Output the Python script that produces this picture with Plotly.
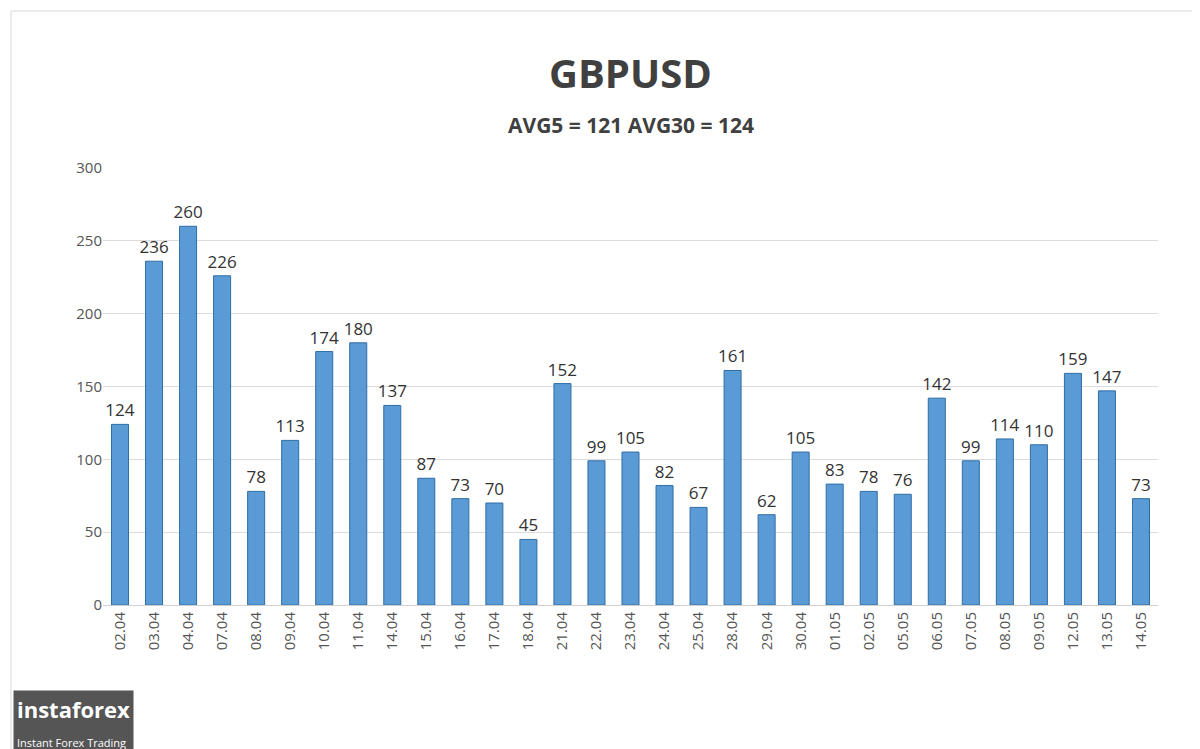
import plotly.graph_objects as go

dates = ["02.04","03.04","04.04","07.04","08.04","09.04","10.04","11.04","14.04","15.04",
         "16.04","17.04","18.04","21.04","22.04","23.04","24.04","25.04","28.04","29.04",
         "30.04","01.05","02.05","05.05","06.05","07.05","08.05","09.05","12.05","13.05","14.05"]
values = [124,236,260,226,78,113,174,180,137,87,73,70,45,152,99,105,82,67,161,62,
          105,83,78,76,142,99,114,110,159,147,73]
yticks = [0,50,100,150,200,250,300]

L, R, T, B = 95, 50, 160, 152
PW, PH = 1200 - L - R, 749 - T - B

fig = go.Figure(go.Bar(
    x=dates, y=values, text=values, textposition="outside", cliponaxis=False,
    constraintext="none",
    textfont=dict(size=17, color="#333", family="Open Sans"),
    marker=dict(color="#5b9bd5", line=dict(color="#2e6da4", width=1)),
    width=0.5,
))
fig.update_layout(
    width=1200, height=749, paper_bgcolor="white", plot_bgcolor="white",
    margin=dict(l=L, r=R, t=T, b=B),
    xaxis=dict(tickangle=-90, tickfont=dict(size=15, color="#555", family="Open Sans"),
               showline=True, linecolor="#d0d0d0", ticks=""),
    yaxis=dict(range=[0,300], tickvals=yticks, showgrid=True, gridcolor="#dcdcdc",
               tickfont=dict(size=15, color="#555", family="Open Sans"), zeroline=False,
               ticks=""),
    showlegend=False,
    shapes=[dict(type="rect", xref="paper", yref="paper",
                 x0=-(L-3)/PW, x1=1+(R-3)/PW, y0=-(B-3)/PH, y1=1+(T-3)/PH,
                 line=dict(color="#d8d8d8", width=1))],
    annotations=[
        dict(text="<b>GBPUSD</b>", xref="paper", yref="paper", x=0.5, y=1+(T-65)/PH,
             xanchor="center", yanchor="middle", showarrow=False,
             font=dict(size=40, color="#404040", family="Open Sans")),
        dict(text="<b>AVG5 = 121 AVG30 = 124</b>", xref="paper", yref="paper", x=0.5, y=1+(T-117)/PH,
             xanchor="center", yanchor="middle", showarrow=False,
             font=dict(size=21, color="#404040", family="Open Sans")),
        dict(text="<b>instaforex</b><br><span style='font-size:11px'>Instant Forex Trading</span>",
             xref="paper", yref="paper", x=-(L-5)/PW, y=-(B-3)/PH, xanchor="left", yanchor="bottom",
             showarrow=False, align="left", bgcolor="#555", borderpad=3,
             font=dict(size=22, color="white", family="Open Sans"))],
)
fig.write_html("out.html")
